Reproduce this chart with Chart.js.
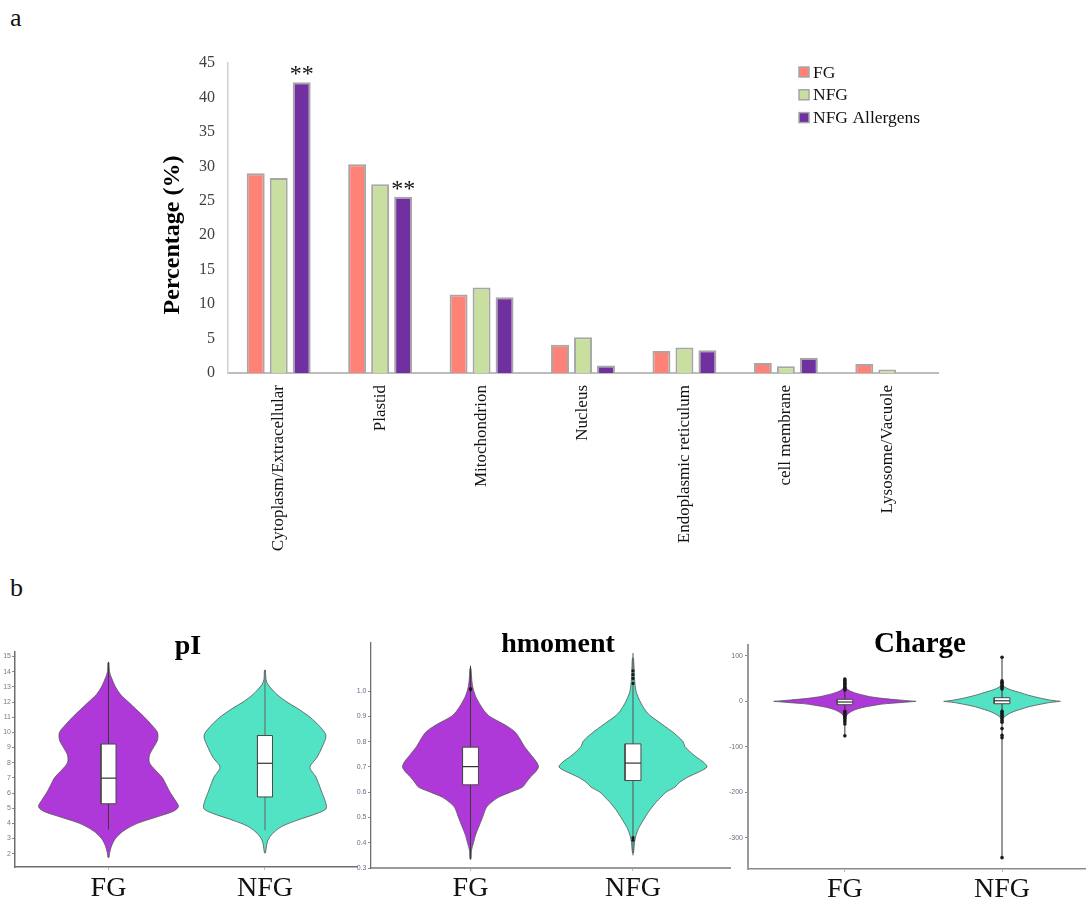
<!DOCTYPE html>
<html>
<head>
<meta charset="utf-8">
<title>Subcellular localisation and physicochemical properties</title>
<script src="https://cdn.jsdelivr.net/npm/chart.js@4.4.1/dist/chart.umd.min.js"></script>
<style>
  html, body { margin: 0; padding: 0; background: #fff; }
  body { width: 1089px; height: 902px; position: relative; overflow: hidden;
         font-family: "Liberation Serif", "Times New Roman", serif; }
  canvas { position: absolute; }
  .panel { position: absolute; font-size: 26px; line-height: 1; color: #111; }
</style>
</head>
<body>
<div class="panel" style="left:10px;top:5px">a</div>
<div class="panel" style="left:10px;top:575px">b</div>

<canvas id="locBars" width="820" height="545" style="left:140px;top:40px"></canvas>
<canvas id="violinPI" width="360" height="292" style="left:0px;top:610px"></canvas>
<canvas id="violinHm" width="395" height="302" style="left:340px;top:600px"></canvas>
<canvas id="violinCh" width="374" height="302" style="left:715px;top:600px"></canvas>

<script>
// ---------- panel a: subcellular localisation (%) ----------
const categories = ['Cytoplasm/Extracellular', 'Plastid', 'Mitochondrion', 'Nucleus',
                    'Endoplasmic reticulum', 'cell membrane', 'Lysosome/Vacuole'];
const seriesNames = ['FG', 'NFG', 'NFG Allergens'];
const fgPercent       = [29.0, 30.3, 11.4, 4.1, 3.2, 1.45, 1.3];
const nfgPercent      = [28.3, 27.4, 12.4, 5.2, 3.7, 0.97, 0.5];
const allergenPercent = [42.2, 25.6, 11.0, 1.1, 3.3, 2.2, null];
const allergenSignif  = ['**', '**', '', '', '', '', ''];
const percentTicks    = [0, 5, 10, 15, 20, 25, 30, 35, 40, 45];

// ---------- panel b: violin summaries ----------
const violinGroups = ['FG', 'NFG'];

// pI
const pITicks = [2, 3, 4, 5, 6, 7, 8, 9, 10, 11, 12, 13, 14, 15];
const pIValuesFG  = [14.6, 14.0, 13.6, 13.0, 12.5, 12.0, 11.5, 11.0, 10.5, 10.0, 9.5, 9.0, 8.5, 8.0,
                     7.5, 7.0, 6.5, 6.0, 5.5, 5.1, 4.8, 4.5, 4.0, 3.5, 3.0, 2.5, 2.0, 1.75];
const pIDensityFG = [0.5, 1, 3, 7, 12, 20, 28, 36, 43, 49, 49, 45, 41, 41,
                     47, 54, 58, 62, 67, 70, 65, 52, 29, 15, 7, 3, 1, 0.5];
const pIValuesNFG  = [14.1, 13.5, 13.15, 12.5, 12.0, 11.6, 11.0, 10.3, 9.77, 9.0, 8.35, 7.7,
                      7.05, 6.2, 5.3, 4.95, 4.65, 4.2, 3.8, 3.35, 2.9, 2.5, 2.05];
const pIDensityNFG = [0.5, 1, 3, 12, 22, 32, 45, 56, 61, 57, 52, 45,
                      51, 56, 61, 61, 52, 32, 17, 8, 3, 1.5, 0.5];
const pIBoxFG  = [5.29, 6.98, 9.23];
const pIBoxNFG = [5.74, 7.96, 9.79];
const pIWhiskerFG  = [3.58, 14.65];
const pIWhiskerNFG = [3.55, 14.1];
const pIOutliersFG  = [];
const pIOutliersNFG = [];

// hmoment
const hmTicks = [0.3, 0.4, 0.5, 0.6, 0.7, 0.8, 0.9, 1.0];
const hmValuesFG  = [1.09, 1.06, 1.02, 0.98, 0.95, 0.92, 0.90, 0.88, 0.86, 0.84, 0.82, 0.80, 0.78, 0.76,
                     0.74, 0.72, 0.70, 0.68, 0.66, 0.64, 0.62, 0.60, 0.58, 0.56, 0.54, 0.50, 0.46,
                     0.43, 0.40, 0.37, 0.335];
const hmDensityFG = [0.5, 1, 2, 5, 9, 14, 19, 28, 37, 44, 48, 51, 54, 58,
                     62, 66, 68, 65, 60, 56, 52, 40, 28, 21, 16, 12, 8,
                     5, 3, 1, 0.5];
const hmValuesNFG  = [1.13, 1.10, 1.05, 1.00, 0.96, 0.92, 0.90, 0.88, 0.86, 0.84, 0.82, 0.80, 0.78, 0.76,
                      0.74, 0.72, 0.70, 0.68, 0.66, 0.64, 0.62, 0.60, 0.58, 0.56, 0.53, 0.50, 0.46,
                      0.43, 0.40, 0.36];
const hmDensityNFG = [0.5, 1, 1.5, 3, 7, 13, 18, 25, 32, 39, 45, 50, 52, 57,
                      63, 70, 74, 66, 55, 47, 42, 33, 28, 23, 17, 12, 6,
                      3, 1.5, 0.5];
const hmBoxFG  = [0.629, 0.701, 0.778];
const hmBoxNFG = [0.646, 0.715, 0.791];
const hmWhiskerFG  = [0.335, 1.10];
const hmWhiskerNFG = [0.35, 1.15];
const hmOutliersFG  = [1.01, 1.005];
const hmOutliersNFG = [1.08, 1.065, 1.05, 1.03, 0.42, 0.41];

// Charge
const chTicks = [-300, -200, -100, 0, 100];
const chValuesFG  = [30, 26, 22, 18, 14, 10, 6, 3, 1, 0, -1, -3, -5, -8, -11, -14, -18, -22, -26, -30, -36];
const chDensityFG = [1, 3, 6, 11, 18, 26, 40, 55, 66, 72, 66, 55, 42, 32, 24, 17, 11, 7, 4, 2, 0.5];
const chValuesNFG  = [34, 30, 26, 22, 18, 14, 10, 6, 3, 1, 0, -1, -3, -6, -9, -12, -16, -20, -25, -30, -35, -38];
const chDensityNFG = [1, 4, 8, 14, 20, 26, 33, 41, 48, 55, 59, 55, 47, 40, 33, 27, 21, 15, 9, 5, 2, 0.5];
const chBoxFG  = [-7.4, -1.5, 4.4];
const chBoxNFG = [-5.3, 1.3, 8.0];
const chWhiskerFG  = [-76, 49];
const chWhiskerNFG = [-344, 97];
const chOutliersFG  = [49, 46, 43, 40, 37, 34, 31, 28, 25, -22, -25, -28, -31, -34, -37, -41, -45, -50, -76];
const chOutliersNFG = [97, 45, 42, 39, 36, 33, 30, 27, -22, -25, -28, -31, -34, -38, -42, -46, -60, -75, -80, -344];

// ---------- shared styling ----------
const FONT_SERIF = '"Liberation Serif", "Times New Roman", serif';
const FONT_SANS  = '"Liberation Sans", Arial, sans-serif';
Chart.defaults.font.family = FONT_SERIF;
Chart.defaults.animation = false;

const barColors = ['#FF8276', '#C8DFA0', '#7030A0'];
const barEdge = '#A6A6A6';

// significance marks, inline legend and y caption for the bar chart
const barDecor = {
  id: 'barDecor',
  afterDraw(chart) {
    const ctx = chart.ctx;
    const area = chart.chartArea;
    ctx.save();

    const meta = chart.getDatasetMeta(2);
    ctx.fillStyle = '#111';
    ctx.font = '24px ' + FONT_SERIF;
    ctx.textAlign = 'center';
    ctx.textBaseline = 'alphabetic';
    allergenSignif.forEach((mark, i) => {
      if (!mark) return;
      const bar = meta.data[i];
      ctx.fillText(mark, bar.x, bar.y - 1);
    });

    ctx.font = '17.5px ' + FONT_SERIF;
    ctx.textAlign = 'left';
    ctx.textBaseline = 'middle';
    chart.data.datasets.forEach((ds, i) => {
      const y = area.top + 9 + i * 22.8;
      const x = area.right - 139;
      ctx.fillStyle = ds.backgroundColor;
      ctx.fillRect(x, y - 5, 10, 10);
      ctx.strokeStyle = barEdge;
      ctx.lineWidth = 1.5;
      ctx.strokeRect(x, y - 5, 10, 10);
      ctx.fillStyle = '#111';
      ctx.fillText(ds.label, x + 14, y + 1);
    });

    ctx.translate(area.left - 55, (area.top + area.bottom) / 2 + 17);
    ctx.rotate(-Math.PI / 2);
    ctx.font = 'bold 24px ' + FONT_SERIF;
    ctx.textAlign = 'center';
    ctx.textBaseline = 'middle';
    ctx.fillStyle = '#000';
    ctx.fillText('Percentage (%)', 0, 0);
    ctx.restore();
  }
};

new Chart(document.getElementById('locBars'), {
  type: 'bar',
  data: {
    labels: categories,
    datasets: [fgPercent, nfgPercent, allergenPercent].map((vals, i) => ({
      label: seriesNames[i],
      data: vals,
      backgroundColor: barColors[i],
      borderColor: barEdge,
      borderWidth: 2,
      categoryPercentage: 0.68,
      barPercentage: 0.78
    }))
  },
  options: {
    responsive: false,
    devicePixelRatio: 1,
    events: [],
    layout: { padding: { top: 23, right: 22, left: 0, bottom: 0 } },
    plugins: { legend: { display: false }, tooltip: { enabled: false } },
    scales: {
      x: {
        grid: { display: false, drawTicks: false },
        border: { color: '#BDBDBD', width: 2 },
        ticks: { minRotation: 90, maxRotation: 90, padding: 12, color: '#111', autoSkip: false,
                 font: { family: FONT_SERIF, size: 17 } },
        afterFit(s) { s.height = 212; }
      },
      y: {
        min: 0, max: 45,
        grid: { display: false, drawTicks: false },
        border: { color: '#D0D0D0', width: 1.5 },
        afterBuildTicks(s) { s.ticks = percentTicks.map(v => ({ value: v })); },
        ticks: { padding: 13, color: '#404040', font: { family: FONT_SERIF, size: 16 } },
        afterFit(s) { s.width = 88; }
      }
    }
  },
  plugins: [barDecor]
});

// ---------- violin charts ----------
const violinTitle = {
  id: 'violinTitle',
  afterDraw(chart, args, opts) {
    const { ctx, chartArea } = chart;
    ctx.save();
    ctx.font = 'bold ' + opts.size + 'px ' + FONT_SERIF;
    ctx.fillStyle = '#000';
    ctx.textAlign = 'center';
    ctx.textBaseline = 'alphabetic';
    ctx.fillText(opts.text, (chartArea.left + chartArea.right) / 2 + opts.dx, chartArea.top + opts.dy);
    ctx.restore();
  }
};

function buildViolin(spec) {
  const datasets = [];
  const k = spec.densityScale;
  const b = spec.boxHalf;
  spec.groups.forEach((g, gi) => {
    const c = gi + 1;
    const rightEdge = g.values.map((v, i) => ({ x: c + g.density[i] * k, y: v }));
    const leftEdge = g.values.map((v, i) => ({ x: c - g.density[i] * k, y: v })).reverse();
    datasets.push({
      data: rightEdge.concat(leftEdge, [rightEdge[0]]),
      showLine: true, fill: 'shape', tension: 0.3,
      backgroundColor: g.color, borderColor: '#555', borderWidth: 0.8,
      pointRadius: 0, order: 5
    });
    datasets.push({
      data: [{ x: c, y: g.whisker[0] }, { x: c, y: g.whisker[1] }],
      showLine: true, borderColor: g.whiskerColor, borderWidth: 1,
      pointRadius: 0, order: 4
    });
    datasets.push({
      data: [{ x: c - b, y: g.box[0] }, { x: c + b, y: g.box[0] }, { x: c + b, y: g.box[2] },
             { x: c - b, y: g.box[2] }, { x: c - b, y: g.box[0] }],
      showLine: true, fill: 'shape', tension: 0,
      backgroundColor: '#fff', borderColor: '#4a4a4a', borderWidth: 1,
      pointRadius: 0, order: 3
    });
    datasets.push({
      data: [{ x: c - b, y: g.box[1] }, { x: c + b, y: g.box[1] }],
      showLine: true, borderColor: '#333', borderWidth: 1.2,
      pointRadius: 0, order: 2
    });
    if (g.outliers.length) {
      datasets.push({
        data: g.outliers.map(v => ({ x: c, y: v })),
        showLine: false, pointRadius: spec.outlierRadius,
        backgroundColor: '#1a1a1a', borderWidth: 0, order: 1
      });
    }
  });

  return new Chart(document.getElementById(spec.canvas), {
    type: 'scatter',
    data: { datasets },
    options: {
      responsive: false,
      devicePixelRatio: 1,
      events: [],
      layout: { padding: { top: spec.padTop, right: spec.padRight, left: 0, bottom: 0 } },
      plugins: {
        legend: { display: false },
        tooltip: { enabled: false },
        violinTitle: { text: spec.title, size: spec.titleSize, dx: spec.titleDx, dy: spec.titleDy }
      },
      scales: {
        x: {
          type: 'linear', min: spec.xMin, max: spec.xMax,
          grid: { drawOnChartArea: false, drawTicks: true, tickLength: 3, color: '#bbb' },
          border: { color: spec.xAxisColor, width: spec.xAxisWidth },
          afterBuildTicks(s) { s.ticks = violinGroups.map((n, i) => ({ value: i + 1 })); },
          ticks: { callback: (v, i) => violinGroups[i], color: '#111', padding: spec.xLabelPad,
                   maxRotation: 0, autoSkip: false, font: { family: FONT_SERIF, size: 28 } },
          afterFit(s) { s.height = spec.xAxisHeight; }
        },
        y: {
          type: 'linear', min: spec.yMin, max: spec.yMax,
          grid: { drawOnChartArea: false, drawTicks: true, tickLength: 3, color: '#888' },
          border: { color: spec.yAxisColor, width: spec.yAxisLine },
          afterBuildTicks(s) { s.ticks = spec.yTicks.map(v => ({ value: v })); },
          ticks: { callback: spec.yFormat, color: spec.tickColor, padding: spec.yLabelPad,
                   font: { family: FONT_SANS, size: 7 } },
          afterFit(s) { s.width = spec.yAxisWidth; }
        }
      }
    },
    plugins: [violinTitle]
  });
}

const FG_FILL = '#AF38D8';
const NFG_FILL = '#52E2C4';

buildViolin({
  canvas: 'violinPI', title: 'pI', titleSize: 28, titleDx: 2, titleDy: 2,
  padTop: 42, padRight: 3, xAxisHeight: 35, yAxisWidth: 15,
  xMin: 0.4026, xMax: 2.588, yMin: 1.12, yMax: 15.3, yTicks: pITicks,
  yFormat: v => String(v), tickColor: '#7a7a7a', yLabelPad: 1,
  xLabelPad: 2, densityScale: 1 / 156.5, boxHalf: 0.048, outlierRadius: 1.6,
  xAxisColor: '#6e6e6e', xAxisWidth: 1.5, yAxisColor: '#6e6e6e', yAxisLine: 1.5,
  groups: [
    { color: FG_FILL, values: pIValuesFG, density: pIDensityFG, box: pIBoxFG,
      whisker: pIWhiskerFG, outliers: pIOutliersFG, whiskerColor: '#3a3a3a' },
    { color: NFG_FILL, values: pIValuesNFG, density: pIDensityNFG, box: pIBoxNFG,
      whisker: pIWhiskerNFG, outliers: pIOutliersNFG, whiskerColor: '#666' }
  ]
});

buildViolin({
  canvas: 'violinHm', title: 'hmoment', titleSize: 28, titleDx: 7.5, titleDy: 9,
  padTop: 43, padRight: 5, xAxisHeight: 34, yAxisWidth: 31,
  xMin: 0.3877, xMax: 2.597, yMin: 0.3, yMax: 1.19, yTicks: hmTicks,
  yFormat: v => v.toFixed(1), tickColor: '#6c6c88', yLabelPad: 1.5,
  xLabelPad: 1, densityScale: 1 / 162.5, boxHalf: 0.049, outlierRadius: 1.6,
  xAxisColor: '#9a9a9a', xAxisWidth: 2, yAxisColor: '#6e6e6e', yAxisLine: 1.3,
  groups: [
    { color: FG_FILL, values: hmValuesFG, density: hmDensityFG, box: hmBoxFG,
      whisker: hmWhiskerFG, outliers: hmOutliersFG, whiskerColor: '#3a3a3a' },
    { color: NFG_FILL, values: hmValuesNFG, density: hmDensityNFG, box: hmBoxNFG,
      whisker: hmWhiskerNFG, outliers: hmOutliersNFG, whiskerColor: '#555' }
  ]
});

buildViolin({
  canvas: 'violinCh', title: 'Charge', titleSize: 29, titleDx: 3.5, titleDy: 7,
  padTop: 45, padRight: 0, xAxisHeight: 33, yAxisWidth: 33,
  xMin: 0.3836, xMax: 2.528, yMin: -369, yMax: 124, yTicks: chTicks,
  yFormat: v => String(v), tickColor: '#6c6c88', yLabelPad: 2,
  xLabelPad: 1, densityScale: 1 / 159, boxHalf: 0.05, outlierRadius: 1.8,
  xAxisColor: '#8a8a8a', xAxisWidth: 1.5, yAxisColor: '#9a9a9a', yAxisLine: 2,
  groups: [
    { color: FG_FILL, values: chValuesFG, density: chDensityFG, box: chBoxFG,
      whisker: chWhiskerFG, outliers: chOutliersFG, whiskerColor: '#333' },
    { color: NFG_FILL, values: chValuesNFG, density: chDensityNFG, box: chBoxNFG,
      whisker: chWhiskerNFG, outliers: chOutliersNFG, whiskerColor: '#333' }
  ]
});
</script>
</body>
</html>
